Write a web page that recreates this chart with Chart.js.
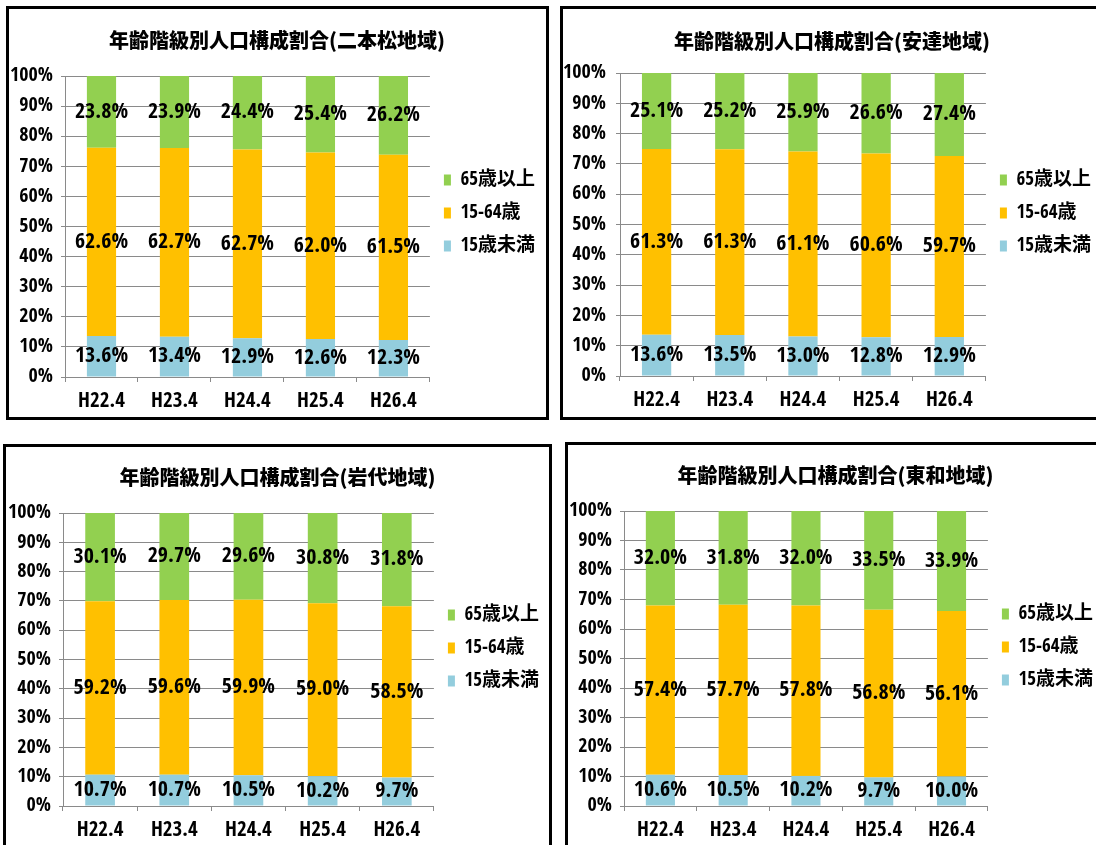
<!DOCTYPE html>
<html lang="ja">
<head>
<meta charset="utf-8">
<title>年齢階級別人口構成割合</title>
<script src="https://cdn.jsdelivr.net/npm/chart.js@4.4.1/dist/chart.umd.min.js"></script>
<style>
  html, body { margin: 0; padding: 0; background: #fff; width: 1096px; height: 845px; overflow: hidden; }
  .panel { position: absolute; border: 3px solid #000; box-sizing: border-box; background: #fff; }
  .panel canvas { display: block; }
</style>
</head>
<body>
<div class="panel" style="left:6px;top:6px;width:543px;height:414px"><canvas id="c1" width="537" height="408"></canvas></div>
<div class="panel" style="left:560px;top:6px;width:545px;height:414px"><canvas id="c2" width="539" height="408"></canvas></div>
<div class="panel" style="left:3px;top:444px;width:549px;height:408px"><canvas id="c3" width="543" height="402"></canvas></div>
<div class="panel" style="left:565px;top:442px;width:546px;height:410px"><canvas id="c4" width="540" height="404"></canvas></div>

<script>
const years = ['H22.4', 'H23.4', 'H24.4', 'H25.4', 'H26.4'];
const seriesNames = ['15歳未満', '15-64歳', '65歳以上'];
const yTicks = [0, 10, 20, 30, 40, 50, 60, 70, 80, 90, 100];

// 二本松地域
const nihonmatsuUnder15 = [13.6, 13.4, 12.9, 12.6, 12.3];
const nihonmatsuWorking = [62.6, 62.7, 62.7, 62.0, 61.5];
const nihonmatsuOver65 = [23.8, 23.9, 24.4, 25.4, 26.2];

// 安達地域
const adachiUnder15 = [13.6, 13.5, 13.0, 12.8, 12.9];
const adachiWorking = [61.3, 61.3, 61.1, 60.6, 59.7];
const adachiOver65 = [25.1, 25.2, 25.9, 26.6, 27.4];

// 岩代地域
const iwashiroUnder15 = [10.7, 10.7, 10.5, 10.2, 9.7];
const iwashiroWorking = [59.2, 59.6, 59.9, 59.0, 58.5];
const iwashiroOver65 = [30.1, 29.7, 29.6, 30.8, 31.8];

// 東和地域
const towaUnder15 = [10.6, 10.5, 10.2, 9.7, 10.0];
const towaWorking = [57.4, 57.7, 57.8, 56.8, 56.1];
const towaOver65 = [32.0, 31.8, 32.0, 33.5, 33.9];

const colors = ['#93CDDD', '#FFC000', '#92D050'];
const gridColor = '#8a8a8a';
const numFont = "'Open Sans Condensed', 'Roboto Condensed', 'Noto Sans CJK JP', sans-serif";
const cjkFont = "'Noto Sans CJK JP', sans-serif";

// value labels in the middle of each bar segment
const barValueLabels = {
    id: 'barValueLabels',
    afterDatasetsDraw(chart)
    {
        const ctx = chart.ctx;
        ctx.save();
        ctx.font = 'bold 22px ' + numFont;
        ctx.fillStyle = '#000';
        ctx.textAlign = 'center';
        ctx.textBaseline = 'middle';
        chart.data.datasets.forEach((ds, i) =>
        {
            chart.getDatasetMeta(i).data.forEach((bar, j) =>
            {
                ctx.fillText(ds.data[j].toFixed(1) + '%', bar.x, (bar.y + bar.base) / 2);
            });
        });
        ctx.restore();
    }
};

function makeChart(id, title, under15, working, over65, lay)
{
    return new Chart(document.getElementById(id), {
        type: 'bar',
        data: {
            labels: years,
            datasets: [
                { label: seriesNames[0], data: under15, backgroundColor: colors[0] },
                { label: seriesNames[1], data: working, backgroundColor: colors[1] },
                { label: seriesNames[2], data: over65, backgroundColor: colors[2] },
            ]
        },
        options: {
            responsive: false,
            animation: false,
            devicePixelRatio: 1,
            layout: { padding: { left: 0, right: lay.right, top: 0, bottom: 0 } },
            datasets: { bar: { categoryPercentage: 1, barPercentage: 0.4 } },
            plugins: {
                title: {
                    display: true,
                    text: title,
                    color: '#000',
                    font: { family: cjkFont, size: 20, weight: '900' },
                    padding: { top: lay.titleTop, bottom: lay.titleBottom }
                },
                legend: {
                    position: 'right',
                    reverse: true,
                    labels: {
                        boxWidth: 7,
                        boxHeight: 11,
                        padding: 14,
                        color: '#000',
                        font: { family: numFont, size: 19, weight: 'bold' }
                    }
                },
                tooltip: { enabled: false }
            },
            scales: {
                x: {
                    stacked: true,
                    grid: { offset: true, drawOnChartArea: false, tickLength: 5, color: gridColor },
                    border: { color: gridColor },
                    ticks: { padding: 7, color: '#000', font: { family: numFont, size: 21, weight: 'bold' } },
                    afterFit: (s) => { s.height = lay.xh; }
                },
                y: {
                    stacked: true,
                    min: yTicks[0],
                    max: yTicks[yTicks.length - 1],
                    afterBuildTicks: (s) => { s.ticks = yTicks.map(v => ({ value: v })); },
                    ticks: {
                        padding: lay.tickPad,
                        color: '#000',
                        font: { family: numFont, size: 20, weight: 'bold' },
                        callback: (v) => v + '%'
                    },
                    grid: { color: gridColor, tickLength: 4 },
                    border: { color: gridColor },
                    afterFit: (s) => { s.width = lay.yw; }
                }
            }
        },
        plugins: [barValueLabels]
    });
}

makeChart('c1', '年齢階級別人口構成割合(二本松地域)', nihonmatsuUnder15, nihonmatsuWorking, nihonmatsuOver65,
    { yw: 56, tickPad: 8, titleTop: 19, titleBottom: 24, xh: 40, right: 1 });
makeChart('c2', '年齢階級別人口構成割合(安達地域)', adachiUnder15, adachiWorking, adachiOver65,
    { yw: 57, tickPad: 10, titleTop: 20, titleBottom: 20, xh: 41, right: 1 });
makeChart('c3', '年齢階級別人口構成割合(岩代地域)', iwashiroUnder15, iwashiroWorking, iwashiroOver65,
    { yw: 57, tickPad: 8, titleTop: 18, titleBottom: 24, xh: 43, right: 0 });
makeChart('c4', '年齢階級別人口構成割合(東和地域)', towaUnder15, towaWorking, towaOver65,
    { yw: 56, tickPad: 8, titleTop: 18, titleBottom: 24, xh: 43, right: 5 });
</script>
</body>
</html>
